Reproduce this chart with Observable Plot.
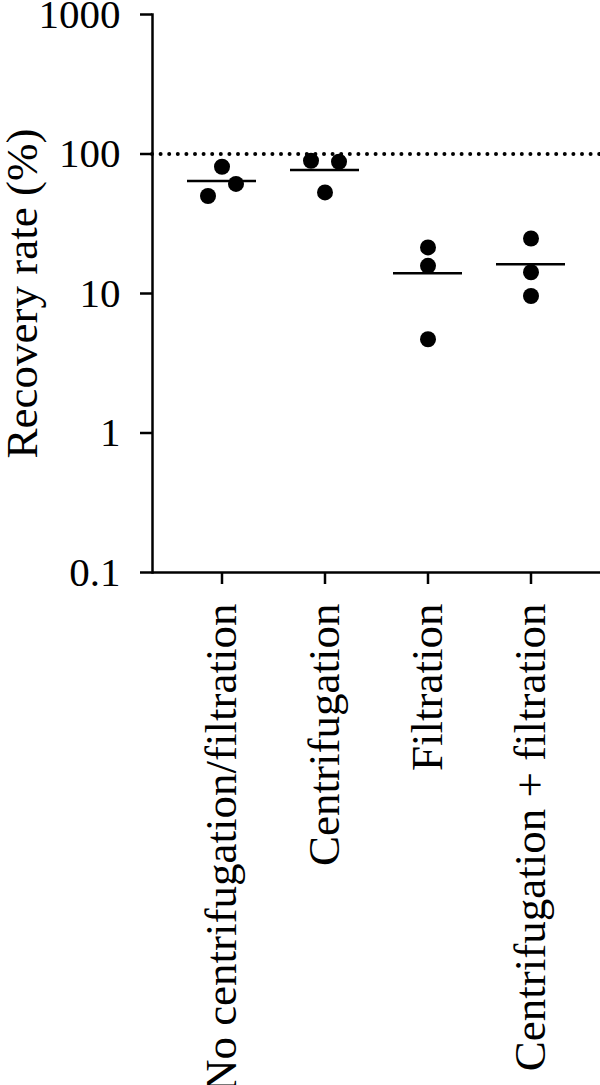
<!DOCTYPE html>
<html>
<head>
<meta charset="utf-8">
<script src="https://cdn.jsdelivr.net/npm/d3@7"></script>
<script src="https://cdn.jsdelivr.net/npm/@observablehq/plot@0.6"></script>
<style>
  html, body { margin: 0; padding: 0; background: #fff; }
</style>
</head>
<body>
<div id="chart"></div>
<script>
// Categories (x axis)
const categories = [
  "No centrifugation/filtration",
  "Centrifugation",
  "Filtration",
  "Centrifugation + filtration"
];

// Replicate group of each point
const pointGroup = [
  "No centrifugation/filtration", "No centrifugation/filtration", "No centrifugation/filtration",
  "Centrifugation", "Centrifugation", "Centrifugation",
  "Filtration", "Filtration", "Filtration",
  "Centrifugation + filtration", "Centrifugation + filtration", "Centrifugation + filtration"
];

// Recovery rate (%) of each replicate
const recoveryRate = [81, 50, 61, 89.5, 88, 53, 21.4, 15.8, 4.7, 24.8, 14.2, 9.6];

// Horizontal column (left / centre / right) of each replicate within its group
const replicateColumn = [0, -1, 1, -1, 1, 0, 0, 0, 0, 0, 0, 0];

// Y axis ticks and the 100 % reference
const yTicks = [0.1, 1, 10, 100, 1000];
const yLabel = "Recovery rate (%)";
const referenceLine = [100];

const data = recoveryRate.map((v, i) => ({group: pointGroup[i], value: v, column: replicateColumn[i]}));

const font = "'Liberation Serif', 'DejaVu Serif', serif";

const dotMarks = [-1, 0, 1].map(c =>
  Plot.dot(data.filter(d => d.column === c), {
    x: "group", y: "value", r: 8, fill: "black", stroke: "none", dx: c * 14
  })
);

const chart = Plot.plot({
  width: 600,
  height: 1085,
  marginLeft: 152,
  marginRight: 0,
  marginTop: 14,
  marginBottom: 513,
  style: {fontFamily: font, fontSize: "44px", color: "black", background: "white"},
  x: {type: "band", domain: categories, paddingInner: 0.33, paddingOuter: 0.325, label: null},
  y: {type: "log", domain: [0.1, 1000], label: null},
  marks: [
    Plot.frame({anchor: "left", stroke: "black", strokeWidth: 2.5}),
    Plot.ruleY([0.1], {stroke: "black", strokeWidth: 2.5}),
    Plot.axisY({
      ticks: yTicks, tickFormat: d => String(d), tickSize: 12, tickPadding: 20,
      strokeWidth: 2.5, fontSize: 41, label: null
    }),
    Plot.axisY({
      ticks: [], fontSize: 45,
      label: yLabel, labelAnchor: "center", labelOffset: 147, labelArrow: "none"
    }),
    Plot.axisX({tickSize: 12, tickPadding: 19, tickRotate: -90, strokeWidth: 2.5, fontSize: 45, label: null}),
    Plot.ruleY(referenceLine, {stroke: "black", strokeWidth: 4, strokeDasharray: "0 8.6", strokeLinecap: "round"}),
    Plot.tickY(data, Plot.groupX({y: "mean"}, {x: "group", y: "value", stroke: "black", strokeWidth: 2.5})),
    ...dotMarks
  ]
});

document.getElementById("chart").appendChild(chart);
</script>
</body>
</html>
